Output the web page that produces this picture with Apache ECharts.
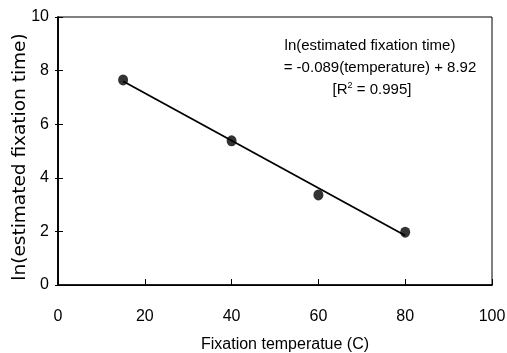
<!DOCTYPE html>
<html lang="en">
<head>
    <meta charset="UTF-8">
    <title>Fixation temperature vs ln(estimated fixation time)</title>
    <script type="text/javascript" src="https://cdn.jsdelivr.net/npm/echarts@6/dist/echarts.min.js"></script>
    <style>
        html, body { margin: 0; padding: 0; background: #fff; }
        #container { width: 507px; height: 353px; }
    </style>
</head>
<body>
<div id="container"></div>
<script>
    // measured points
    var temperature = [15, 40, 60, 80];
    var lnTime = [7.65, 5.38, 3.36, 1.97];
    // regression line ends
    var fitTemp = [15, 80];
    var fitLnTime = [7.6, 1.85];
    var xTicks = [0, 20, 40, 60, 80, 100];
    var yTicks = [0, 2, 4, 6, 8, 10];

    function pairs(xs, ys) {
        var out = [];
        for (var i = 0; i < xs.length; i++) {
            out.push([xs[i], ys[i]]);
        }
        return out;
    }

    var font = 'Liberation Sans';
    var dom = document.getElementById("container");
    var myChart = echarts.init(dom);
    var option = {
        animation: false,
        backgroundColor: '#fff',
        grid: {
            left: 58, right: 15, top: 17, bottom: 68,
            outerBoundsMode: 'none',
            show: true, borderColor: '#000', borderWidth: 1
        },
        xAxis: [{
            type: 'value',
            min: xTicks[0],
            max: xTicks[xTicks.length - 1],
            interval: 20,
            name: 'Fixation temperatue (C)',
            nameLocation: 'middle',
            nameGap: 52,
            nameTextStyle: {fontFamily: font, fontSize: 16, color: '#000', padding: [0, 0, 0, 20]},
            axisLine: {lineStyle: {color: '#000', width: 1.5}},
            axisTick: {inside: true, length: 6, lineStyle: {color: '#000'}},
            axisLabel: {fontFamily: font, fontSize: 16, color: '#000', margin: 24},
            splitLine: {show: false}
        }, {
            type: 'value',
            position: 'top',
            min: xTicks[0],
            max: xTicks[xTicks.length - 1],
            interval: 20,
            axisLine: {lineStyle: {color: '#000', width: 1}},
            axisTick: {show: false},
            axisLabel: {show: false},
            splitLine: {show: false}
        }],
        yAxis: [{
            type: 'value',
            min: yTicks[0],
            max: yTicks[yTicks.length - 1],
            interval: 2,
            name: 'ln(estimated fixation time)',
            nameLocation: 'middle',
            nameGap: 28,
            nameMoveOverlap: false,
            nameTextStyle: {fontFamily: 'DejaVu Sans', fontSize: 18.5, color: '#000', padding: [0, 12, 0, 0]},
            axisLine: {lineStyle: {color: '#000', width: 1.5}},
            axisTick: {inside: true, length: 5, lineStyle: {color: '#000'}},
            axisLabel: {fontFamily: font, fontSize: 16, color: '#000', margin: 9},
            splitLine: {show: false}
        }, {
            type: 'value',
            position: 'right',
            min: yTicks[0],
            max: yTicks[yTicks.length - 1],
            interval: 2,
            axisLine: {lineStyle: {color: '#000', width: 1.5}},
            axisTick: {inside: true, length: 3, lineStyle: {color: '#000'}},
            axisLabel: {show: false},
            splitLine: {show: false}
        }],
        series: [{
            type: 'line',
            data: pairs(fitTemp, fitLnTime),
            symbol: 'none',
            lineStyle: {color: '#000', width: 1.8},
            z: 2
        }, {
            type: 'scatter',
            data: pairs(temperature, lnTime),
            symbol: 'circle',
            symbolSize: [10, 11],
            itemStyle: {color: '#000'},
            z: 3
        }],
        graphic: [{
            type: 'text',
            x: 370, y: 46,
            style: {text: 'ln(estimated fixation time)', font: '15px "Liberation Sans"', fill: '#000', align: 'center', verticalAlign: 'middle'}
        }, {
            type: 'text',
            x: 380, y: 68,
            style: {text: '= -0.089(temperature) + 8.92', font: '15px "Liberation Sans"', fill: '#000', align: 'center', verticalAlign: 'middle'}
        }, {
            type: 'text',
            x: 372, y: 90,
            style: {
                text: '[R{sup|2} = 0.995]',
                font: '15px "Liberation Sans"',
                fill: '#000',
                align: 'center',
                verticalAlign: 'middle',
                rich: {sup: {fontFamily: font, fontSize: 9, verticalAlign: 'top', padding: [0, 0, 8, 0], fill: '#000'}}
            }
        }]
    };
    myChart.setOption(option, true);
</script>
</body>
</html>
